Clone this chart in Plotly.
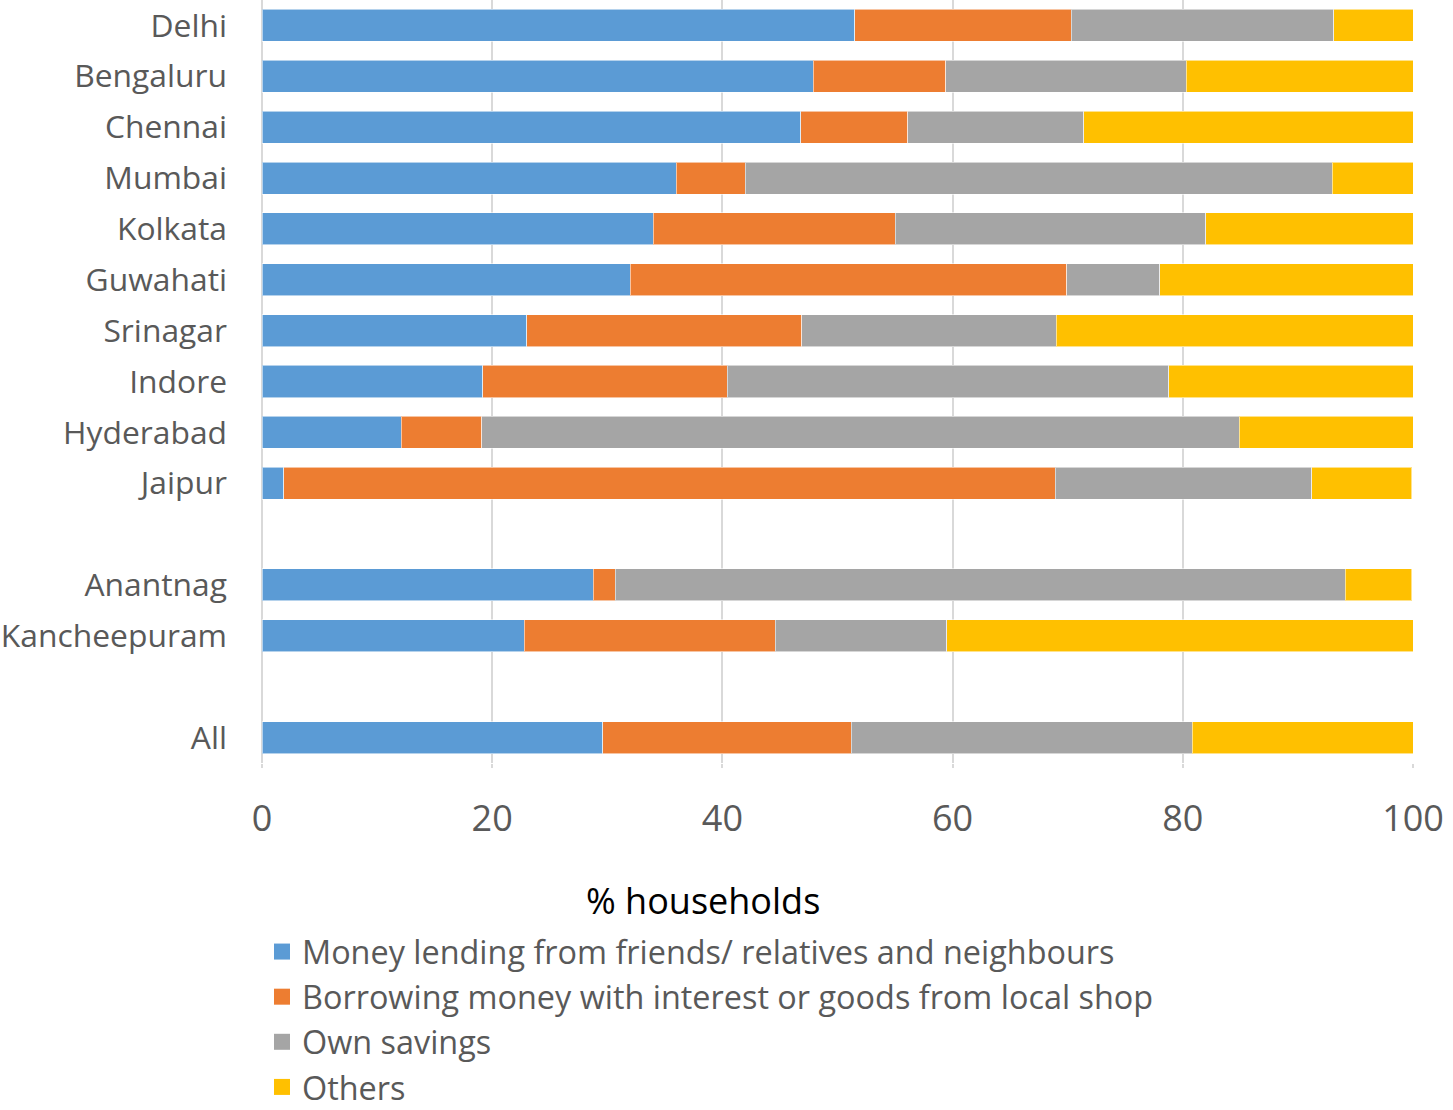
import plotly.graph_objects as go

# Cities / districts listed top to bottom, with blank spacer rows between groups
cities = ["Delhi", "Bengaluru", "Chennai", "Mumbai", "Kolkata", "Guwahati",
          "Srinagar", "Indore", "Hyderabad", "Jaipur"]
districts = ["Anantnag", "Kancheepuram"]
overall = ["All"]

# Share of households (%) by coping source
friends_relatives = [51.5, 47.9, 46.8, 36.0, 34.0, 32.0, 23.0, 19.2, 12.1, 1.9,
                     28.8, 22.8,
                     29.6]
local_shop = [18.8, 11.5, 9.3, 6.0, 21.0, 37.9, 23.9, 21.2, 7.0, 67.0,
              1.9, 21.8,
              21.6]
own_savings = [22.8, 20.9, 15.3, 51.0, 27.0, 8.1, 22.1, 38.4, 65.8, 22.3,
               63.4, 14.9,
               29.6]
others = [6.9, 19.8, 28.6, 7.0, 18.0, 22.0, 31.0, 21.2, 15.1, 8.7,
          5.8, 40.6,
          19.2]

series_names = [
    "Money lending from friends/ relatives and neighbours",
    "Borrowing money with interest or goods from local shop",
    "Own savings",
    "Others",
]
series_values = [friends_relatives, local_shop, own_savings, others]
colors = ["#5B9BD5", "#ED7D31", "#A5A5A5", "#FFC000"]

labels = cities + districts + overall
rows = cities + [" "] + districts + ["  "] + overall

FONT = "Open Sans"
TEXT_GRAY = "#595959"
W, H = 1453, 1110
PLOT_H = 763  # height of the plotting area in px


def paper_y(px):
    """Convert a pixel row (from the top of the page) to paper y."""
    return (PLOT_H - px) / PLOT_H


fig = go.Figure()
for name, vals, col in zip(series_names, series_values, colors):
    lookup = dict(zip(labels, vals))
    fig.add_trace(go.Bar(
        y=rows,
        x=[lookup.get(r) for r in rows],
        orientation="h",
        name=name,
        marker=dict(color=col, line=dict(color="rgba(255,255,255,0.55)", width=1)),
        showlegend=False,
        hoverinfo="x+y",
    ))

# Legend entries with larger square swatches
for i, (name, col) in enumerate(zip(series_names, colors)):
    fig.add_trace(go.Scatter(
        x=[None], y=[None], mode="markers", name=name,
        marker=dict(symbol="square", size=20, color=col),
        legendgroup=f"g{i}", showlegend=True,
    ))

fig.update_layout(
    barmode="stack",
    bargap=0.37,
    width=W, height=H,
    margin=dict(l=262, r=40, t=0, b=H - PLOT_H, autoexpand=False),
    plot_bgcolor="white", paper_bgcolor="white",
    font=dict(family=FONT, color=TEXT_GRAY),
    xaxis=dict(
        range=[0, 100], dtick=20, tick0=0,
        showgrid=True, gridcolor="#D9D9D9", gridwidth=1.5,
        zeroline=True, zerolinecolor="#D9D9D9", zerolinewidth=1.5,
        ticks="outside", ticklen=4, tickcolor="#D9D9D9", tickwidth=1.5,
        tickfont=dict(size=36, color=TEXT_GRAY),
        ticklabelstandoff=20,
        showline=False, automargin=False,
    ),
    yaxis=dict(
        type="category",
        categoryorder="array", categoryarray=rows,
        autorange="reversed",
        tickfont=dict(size=31.8, color=TEXT_GRAY),
        ticklabelstandoff=34,
        showgrid=False, showline=False, ticks="", automargin=False,
    ),
    legend=dict(
        x=0, xanchor="left", xref="paper",
        y=paper_y(924), yanchor="top", yref="paper",
        font=dict(size=32.4, color=TEXT_GRAY),
        tracegroupgap=0,
        borderwidth=0,
        itemsizing="trace",
        bgcolor="rgba(0,0,0,0)",
    ),
    annotations=[dict(
        text="% households", x=(703 - 262) / (W - 262 - 40), y=paper_y(900),
        xref="paper", yref="paper", xanchor="center", yanchor="middle",
        showarrow=False, font=dict(size=36, color="#000000", family=FONT),
    )],
)

fig.write_html("out.html")
